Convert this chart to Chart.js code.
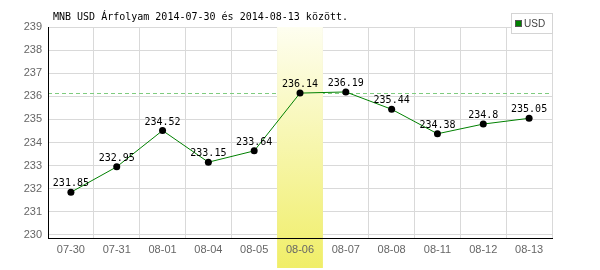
<!DOCTYPE html>
<html>
<head>
<meta charset="utf-8">
<script src="https://cdn.jsdelivr.net/npm/chart.js@4"></script>
<style>
  body { margin: 0; background: #fff; }
  canvas { display: block; }
</style>
</head>
<body>
<canvas id="rateChart" width="600" height="270"></canvas>
<script>
var days = ['07-30', '07-31', '08-01', '08-04', '08-05', '08-06', '08-07', '08-08', '08-11', '08-12', '08-13'];
var usdRates = [231.85, 232.95, 234.52, 233.15, 233.64, 236.14, 236.19, 235.44, 234.38, 234.8, 235.05];
var yTicks = [230, 231, 232, 233, 234, 235, 236, 237, 238, 239];
var highlightDay = '08-06';
var refRate = 236.14;
var titleText = 'MNB USD Árfolyam 2014-07-30 és 2014-08-13 között.';

// band, dashed line, value labels, title and legend
var extras = {
    id: 'extras',
    beforeDatasetsDraw: function(chart) {
        var ctx = chart.ctx, area = chart.chartArea;
        var x = chart.scales.x, y = chart.scales.y;
        ctx.save();
        // dashed reference line
        var ry = Math.round(y.getPixelForValue(refRate)) + 0.5;
        ctx.strokeStyle = '#7fcc7f';
        ctx.lineWidth = 1;
        ctx.setLineDash([4, 3]);
        ctx.beginPath();
        ctx.moveTo(area.left, ry);
        ctx.lineTo(area.right, ry);
        ctx.stroke();
        ctx.setLineDash([]);
        // highlighted day
        var i = days.indexOf(highlightDay);
        var half = (x.getPixelForValue(1) - x.getPixelForValue(0)) / 2;
        var cx = x.getPixelForValue(i);
        var grad = ctx.createLinearGradient(0, area.top, 0, 268);
        grad.addColorStop(0, '#fefef0');
        grad.addColorStop(1, '#f0ee68');
        ctx.fillStyle = grad;
        ctx.fillRect(cx - half, area.top, half * 2, 268 - area.top);
        ctx.restore();
    },
    afterDatasetsDraw: function(chart) {
        var ctx = chart.ctx;
        var meta = chart.getDatasetMeta(0);
        ctx.save();
        ctx.font = '10px "DejaVu Sans Mono", monospace';
        ctx.fillStyle = '#000';
        ctx.textAlign = 'center';
        ctx.textBaseline = 'alphabetic';
        meta.data.forEach(function(pt, i) {
            ctx.fillText(String(usdRates[i]), pt.x, pt.y - 6);
        });
        ctx.restore();
    },
    afterDraw: function(chart) {
        var ctx = chart.ctx;
        ctx.save();
        ctx.font = '10px "DejaVu Sans Mono", monospace';
        ctx.fillStyle = '#000';
        ctx.textBaseline = 'alphabetic';
        ctx.textAlign = 'left';
        ctx.fillText(titleText, 53, 20);
        // legend
        ctx.fillStyle = '#fff';
        ctx.fillRect(511, 13, 42, 20);
        ctx.strokeStyle = '#d4d4d4';
        ctx.lineWidth = 1;
        ctx.strokeRect(511.5, 13.5, 41, 20);
        ctx.fillStyle = '#008000';
        ctx.fillRect(515, 20, 7, 7);
        ctx.strokeStyle = '#555';
        ctx.strokeRect(515.5, 20.5, 6, 6);
        ctx.fillStyle = '#444';
        ctx.font = '10px "Liberation Sans", Arial, sans-serif';
        ctx.textBaseline = 'middle';
        ctx.fillText('USD', 524, 24);
        ctx.restore();
    }
};

var ctx = document.getElementById('rateChart').getContext('2d');
var rateChart = new Chart(ctx, {
    type: 'line',
    data: {
        labels: days,
        datasets: [{
            label: 'USD',
            data: usdRates,
            borderColor: '#008000',
            borderWidth: 1,
            backgroundColor: '#000',
            pointBackgroundColor: '#000',
            pointBorderColor: '#000',
            pointRadius: 3.5,
            pointBorderWidth: 0,
            tension: 0,
            fill: false,
            clip: false
        }]
    },
    options: {
        responsive: false,
        animation: false,
        layout: {
            padding: { left: 0, top: 27, right: 48, bottom: 0 }
        },
        scales: {
            x: {
                offset: true,
                grid: {
                    offset: true,
                    color: '#d9d9d9',
                    drawTicks: false
                },
                border: { color: '#000', width: 1, z: 1 },
                ticks: {
                    z: 1,
                    color: '#666',
                    padding: 5,
                    maxRotation: 0,
                    autoSkip: false,
                    font: { family: '"Liberation Sans", Arial, sans-serif', size: 11 }
                },
                afterFit: function(scale) { scale.height = 32; }
            },
            y: {
                min: 229.87,
                max: 239,
                grid: {
                    color: '#d9d9d9',
                    drawTicks: false
                },
                border: { color: '#000', width: 1, z: 1 },
                ticks: {
                    color: '#666',
                    padding: 6,
                    font: { family: '"Liberation Sans", Arial, sans-serif', size: 11 }
                },
                afterBuildTicks: function(scale) {
                    scale.ticks = yTicks.map(function(v) { return { value: v }; });
                },
                afterFit: function(scale) { scale.width = 48; }
            }
        },
        plugins: {
            legend: { display: false },
            title: { display: false },
            tooltip: { enabled: false }
        }
    },
    plugins: [extras]
});
</script>
</body>
</html>
